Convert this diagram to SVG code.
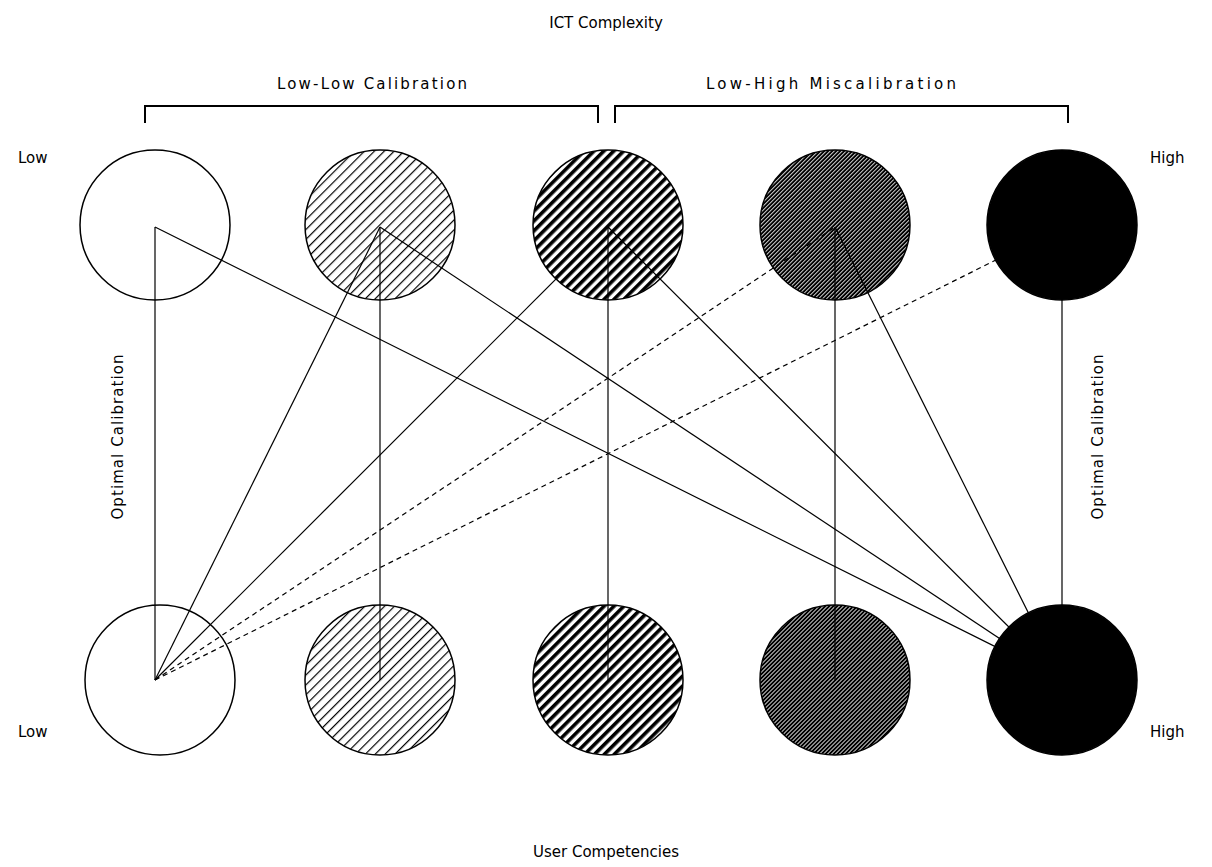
<svg xmlns="http://www.w3.org/2000/svg" width="1212" height="867" viewBox="0 0 1212 867">
<style>
.t{font-family:"DejaVu Sans","Liberation Sans",sans-serif;font-size:15px;fill:#000}
.c{stroke:#000;stroke-width:1.5}
.l{stroke:#000;stroke-width:1.2;fill:none}
.d{stroke:#000;stroke-width:1.2;fill:none;stroke-dasharray:5 4}
.b{stroke:#000;stroke-width:2;fill:none}
</style>
<defs>
<pattern id="h1" patternUnits="userSpaceOnUse" width="7" height="7" patternTransform="rotate(45)"><rect width="7" height="7" fill="#fff"/><rect width="1.2" height="7" fill="#000"/></pattern>
<pattern id="h2" patternUnits="userSpaceOnUse" width="7" height="7" patternTransform="rotate(45)"><rect width="7" height="7" fill="#fff"/><rect width="3.6" height="7" fill="#000"/></pattern>
<pattern id="h3" patternUnits="userSpaceOnUse" width="2.83" height="7" patternTransform="rotate(45)"><rect width="2.83" height="7" fill="#000"/><rect width="0.8" height="7" fill="#fff"/></pattern>
</defs>
<rect width="1212" height="867" fill="#fff"/>
<text class="t" x="606" y="28" text-anchor="middle">ICT Complexity</text>
<text class="t" x="372" y="89" text-anchor="middle" textLength="190" lengthAdjust="spacing">Low-Low Calibration</text>
<text class="t" x="831" y="89" text-anchor="middle" textLength="250" lengthAdjust="spacing">Low-High Miscalibration</text>
<g id="brackets">
<path class="b" d="M145,123V106H598V123M615,123V106H1068V123"/>
</g>
<g id="n-top1"><circle class="c" cx="155" cy="225" r="75" fill="#fff"/></g>
<g id="n-top2"><circle class="c" cx="380" cy="225" r="75" fill="url(#h1)"/></g>
<g id="n-top3"><circle class="c" cx="608" cy="225" r="75" fill="url(#h2)"/></g>
<g id="n-top4"><circle class="c" cx="835" cy="225" r="75" fill="url(#h3)"/></g>
<g id="n-top5"><circle class="c" cx="1062" cy="225" r="75" fill="#000"/></g>
<g id="n-bot1"><circle class="c" cx="160" cy="680" r="75" fill="#fff"/></g>
<g id="n-bot2"><circle class="c" cx="380" cy="680" r="75" fill="url(#h1)"/></g>
<g id="n-bot3"><circle class="c" cx="608" cy="680" r="75" fill="url(#h2)"/></g>
<g id="n-bot4"><circle class="c" cx="835" cy="680" r="75" fill="url(#h3)"/></g>
<g id="n-bot5"><circle class="c" cx="1062" cy="680" r="75" fill="#000"/></g>
<g id="connectors">
<path class="l" d="M155,227V680"/>
<path class="l" d="M380,227V680"/>
<path class="l" d="M608,227V680"/>
<path class="l" d="M835,227V680"/>
<path class="l" d="M1062,227V680"/>
<path class="l" d="M155,227L1062,680"/>
<path class="l" d="M380,227L1062,680"/>
<path class="l" d="M608,227L1062,680"/>
<path class="l" d="M835,227L1062,680"/>
<path class="l" d="M155,680L380,227"/>
<path class="l" d="M155,680L608,227"/>
<path class="d" d="M155,680L835,227"/>
<path class="d" d="M155,680L1062,227"/>
</g>
<text class="t" x="18" y="163">Low</text>
<text class="t" x="1150" y="163">High</text>
<text class="t" x="18" y="737">Low</text>
<text class="t" x="1150" y="737">High</text>
<text class="t" transform="translate(123,437) rotate(-90)" text-anchor="middle" textLength="165" lengthAdjust="spacing">Optimal Calibration</text>
<text class="t" transform="translate(1103,437) rotate(-90)" text-anchor="middle" textLength="165" lengthAdjust="spacing">Optimal Calibration</text>
<text class="t" x="606" y="857" text-anchor="middle">User Competencies</text>
</svg>
